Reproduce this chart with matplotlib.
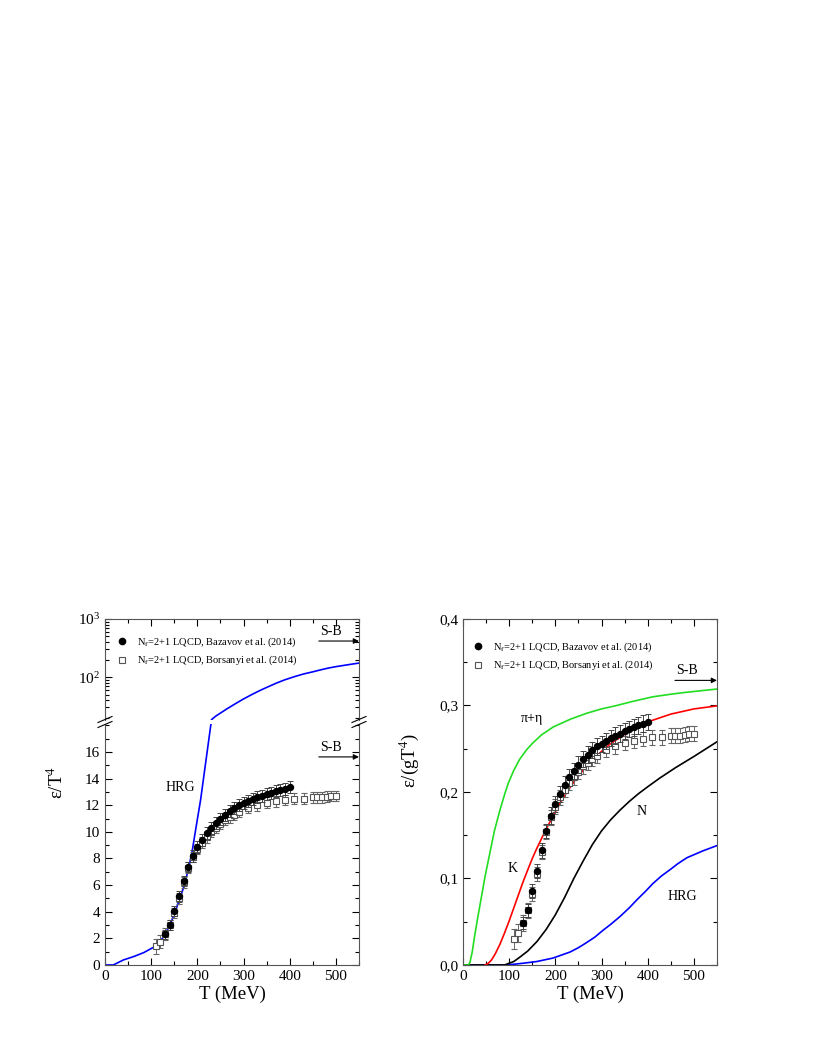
import numpy as np
import matplotlib
matplotlib.use('Agg')
import matplotlib.pyplot as plt
from matplotlib.lines import Line2D
from matplotlib.ticker import MultipleLocator, FuncFormatter, LogLocator, NullFormatter

plt.rcParams['font.family'] = ['Liberation Serif', 'DejaVu Serif']
plt.rcParams['mathtext.fontset'] = 'stix'

# degrees of freedom used for the right panel normalisation
G_DOF = 47.5
SB_LIMIT = 15.63

# lattice data, Bazavov et al. (2014)
T_baz = [130, 140, 150, 160, 170, 180, 190, 200, 210, 220, 230, 240, 250, 260,
         270, 280, 290, 300, 310, 320, 330, 340, 350, 360, 370, 380, 390, 400]
e_baz = [2.3, 3.0, 4.05, 5.15, 6.3, 7.35, 8.2, 8.85, 9.4, 9.9, 10.3, 10.65, 11.0, 11.3,
         11.55, 11.8, 12.0, 12.15, 12.3, 12.45, 12.6, 12.7, 12.85, 12.95, 13.05, 13.15, 13.25, 13.35]
err_baz = [0.35, 0.35, 0.4, 0.4, 0.4, 0.4, 0.45, 0.45, 0.45, 0.45, 0.45, 0.45, 0.45, 0.45,
           0.45, 0.45, 0.45, 0.45, 0.45, 0.45, 0.45, 0.45, 0.45, 0.45, 0.45, 0.45, 0.45, 0.45]

# lattice data, Borsanyi et al. (2014)
T_bor = [110, 120, 130, 140, 150, 160, 170, 180, 190, 200, 210, 220, 230, 240, 250, 260,
         270, 280, 290, 310, 330, 350, 370, 390, 410, 430, 450, 460, 470, 480, 490, 500]
e_bor = [1.4, 1.75, 2.3, 3.0, 3.9, 5.0, 6.2, 7.3, 8.1, 8.7, 9.2, 9.6, 10.0, 10.3, 10.6, 10.9,
         11.1, 11.3, 11.5, 11.8, 12.0, 12.2, 12.3, 12.4, 12.5, 12.5, 12.6, 12.6, 12.6, 12.65, 12.7, 12.7]
err_bor = [0.55, 0.5, 0.45, 0.4, 0.4, 0.4, 0.4, 0.4, 0.4, 0.4, 0.4, 0.4, 0.4, 0.4, 0.4, 0.4,
           0.4, 0.4, 0.4, 0.4, 0.4, 0.4, 0.4, 0.4, 0.4, 0.4, 0.4, 0.4, 0.4, 0.4, 0.4, 0.4]

# HRG curve, left panel (linear part below the break, log part above)
T_hrg_lo = [0, 18, 40, 62, 84, 105, 116, 127, 142, 156, 171, 182, 189, 196, 207, 218, 229, 232]
e_hrg_lo = [0, 0, 0.38, 0.63, 0.93, 1.33, 1.63, 2.13, 3.1, 4.4, 5.9, 7.4, 8.6, 10.1, 12.4, 15.2, 18.0, 18.6]
T_hrg_hi = [231, 240, 250, 266, 283, 300, 320, 338, 355, 370, 390, 411, 430, 450, 467, 484, 500, 520, 535, 550]
e_hrg_hi = [18.6, 21.3, 24, 29, 35, 42, 51, 60, 69, 78, 90, 102, 113, 123, 133, 143, 151, 160, 167, 174]

# right panel curves, eps/(g T^4)
T_pi = [0, 12, 15, 20, 25, 32, 40, 48, 58, 68, 80, 90, 98, 110, 123, 138, 150, 170, 195,
        232, 268, 300, 333, 370, 411, 450, 480, 515, 550]
e_pi = [0, 0, 0.003, 0.015, 0.033, 0.055, 0.079, 0.103, 0.129, 0.155, 0.179, 0.197, 0.21,
        0.225, 0.238, 0.249, 0.256, 0.266, 0.275, 0.284, 0.291, 0.296, 0.3, 0.305, 0.31,
        0.313, 0.315, 0.317, 0.319]
T_K = [48, 55, 62, 70, 80, 90, 100, 110, 120, 130, 141, 150, 160, 170, 180, 190, 200, 210,
       225, 242, 260, 281, 300, 320, 354, 400, 450, 500, 550]
e_K = [0, 0.002, 0.006, 0.013, 0.024, 0.037, 0.051, 0.066, 0.081, 0.096, 0.111, 0.123, 0.135,
       0.146, 0.157, 0.167, 0.177, 0.187, 0.2, 0.213, 0.225, 0.237, 0.247, 0.256, 0.268, 0.281,
       0.29, 0.296, 0.2995]
T_N = [0, 90, 95, 110, 123, 140, 160, 180, 200, 220, 240, 260, 280, 300, 320, 340, 360, 380,
       400, 426, 460, 500, 550]
e_N = [0, 0, 0.001, 0.004, 0.009, 0.016, 0.027, 0.041, 0.058, 0.078, 0.1, 0.12, 0.139, 0.155,
       0.168, 0.179, 0.189, 0.198, 0.206, 0.216, 0.228, 0.241, 0.258]
T_hrg_r = [0, 90, 110, 130, 160, 195, 232, 250, 268, 285, 303, 320, 340, 360, 376, 395, 411,
           430, 448, 465, 485, 520, 550]
e_hrg_r = [0, 0, 0.0008, 0.002, 0.004, 0.008, 0.015, 0.02, 0.026, 0.032, 0.04, 0.047, 0.056,
           0.066, 0.075, 0.085, 0.094, 0.103, 0.11, 0.117, 0.124, 0.132, 0.138]

fig = plt.figure(figsize=(8.14, 10.53), dpi=100)

ax_lo = fig.add_axes([0.1290, 0.0836, 0.3120, 0.2288])
ax_hi = fig.add_axes([0.1290, 0.3162, 0.3120, 0.0960])
ax_r = fig.add_axes([0.5688, 0.0836, 0.3120, 0.3286])

TICK_FS = 11


def style_x(ax, labels=True):
    ax.set_xlim(0, 550)
    ax.xaxis.set_major_locator(MultipleLocator(100))
    ax.xaxis.set_minor_locator(MultipleLocator(50))
    ax.tick_params(which='major', length=5, width=0.8, direction='in', labelsize=TICK_FS)
    ax.tick_params(which='minor', length=3, width=0.8, direction='in')
    if not labels:
        ax.tick_params(labelbottom=False)


def plot_data(ax, scale):
    ax.errorbar(T_bor, np.array(e_bor) / scale, yerr=np.array(err_bor) / scale, fmt='s',
                ms=3.8, mfc='white', mec='#555555', mew=0.8, ecolor='#666666',
                elinewidth=0.7, capsize=2.5, capthick=0.7, zorder=3)
    ax.errorbar(T_baz, np.array(e_baz) / scale, yerr=np.array(err_baz) / scale, fmt='o',
                ms=4.3, mfc='black', mec='black', ecolor='#444444',
                elinewidth=0.7, capsize=2.5, capthick=0.7, zorder=4)


def sb_arrow(ax, x0, y, ytext):
    ax.annotate('', xy=(550, y), xytext=(x0, y),
                arrowprops=dict(arrowstyle='-|>', color='black', lw=0.8, mutation_scale=8,
                                shrinkA=0, shrinkB=0))
    ax.text(x0 + 27, ytext, 'S-B', fontsize=10, ha='center', va='bottom')


# ---- left panel, lower (linear) part
style_x(ax_lo)
ax_lo.set_ylim(0, 18.1)
ax_lo.set_yticks(range(0, 17, 2))
ax_lo.yaxis.set_minor_locator(MultipleLocator(1))
ax_lo.tick_params(which='both', top=False, right=True)
ax_lo.spines['top'].set_visible(False)
ax_lo.plot(T_hrg_lo, e_hrg_lo, color='blue', lw=1.2, zorder=2)
plot_data(ax_lo, 1.0)
ax_lo.set_xlabel('T (MeV)', fontsize=13.5, labelpad=2)
ax_lo.text(164, 13.3, 'HRG', fontsize=10, ha='center', va='center')
sb_arrow(ax_lo, 463, SB_LIMIT, SB_LIMIT + 0.25)
fig.text(57 / 814, 1 - 782 / 1053, r'ε/T$^4$', fontsize=13.5, rotation=90, ha='center', va='center')

# ---- left panel, upper (log) part
style_x(ax_hi, labels=False)
ax_hi.set_yscale('log')
ax_hi.set_ylim(18.2, 1000)
ax_hi.yaxis.set_major_locator(LogLocator(base=10, numticks=5))
ax_hi.yaxis.set_minor_locator(LogLocator(base=10, subs=np.arange(2, 10), numticks=20))
ax_hi.yaxis.set_minor_formatter(NullFormatter())
ax_hi.tick_params(which='both', top=True, right=True, bottom=False)
ax_hi.tick_params(axis='y', which='major', labelsize=TICK_FS)
ax_hi.spines['bottom'].set_visible(False)
ax_hi.plot(T_hrg_hi, e_hrg_hi, color='blue', lw=1.2)
sb_arrow(ax_hi, 463, 417, 470)

# break marks on both spines
for xf in (105 / 814, 359 / 814):
    for dy in (-2.5, 2.5):
        yc = 722 + dy
        fig.add_artist(Line2D([xf - 7 / 814, xf + 7 / 814],
                              [1 - (yc + 3) / 1053, 1 - (yc - 3) / 1053],
                              color='black', lw=0.8))

handles = [Line2D([], [], ls='none', marker='o', ms=4.5, mfc='black', mec='black'),
           Line2D([], [], ls='none', marker='s', ms=4, mfc='white', mec='#555555', mew=0.8)]
labels = [r'N$_\mathrm{f}$=2+1 LQCD, Bazavov et al. (2014)',
          r'N$_\mathrm{f}$=2+1 LQCD, Borsanyi et al. (2014)']
ax_hi.legend(handles, labels, loc='upper left', bbox_to_anchor=(112 / 814, 1 - 630 / 1053),
             bbox_transform=fig.transFigure, frameon=False, fontsize=7.5,
             handlelength=1.0, handletextpad=0.9, labelspacing=0.5, borderpad=0)

# ---- right panel
style_x(ax_r)
ax_r.set_ylim(0, 0.4)
ax_r.yaxis.set_major_locator(MultipleLocator(0.1))
ax_r.yaxis.set_minor_locator(MultipleLocator(0.05))
ax_r.yaxis.set_major_formatter(FuncFormatter(lambda v, p: f'{v:.1f}'.replace('.', ',')))
ax_r.tick_params(which='both', top=True, right=True)
ax_r.plot(T_hrg_r, e_hrg_r, color='blue', lw=1.2)
ax_r.plot(T_N, e_N, color='black', lw=1.2)
ax_r.plot(T_K, e_K, color='red', lw=1.2)
ax_r.plot(T_pi, e_pi, color='#22dd22', lw=1.2)
plot_data(ax_r, G_DOF)
ax_r.set_xlabel('T (MeV)', fontsize=13.5, labelpad=2)
fig.text(409 / 814, 1 - 760 / 1053, r'ε/(gT$^4$)', fontsize=13.5, rotation=90, ha='center', va='center')
ax_r.text(149, 0.285, 'π+η', fontsize=10, ha='center', va='center')
ax_r.text(108, 0.112, 'K', fontsize=10, ha='center', va='center')
ax_r.text(387, 0.177, 'N', fontsize=10, ha='center', va='center')
ax_r.text(474, 0.079, 'HRG', fontsize=10, ha='center', va='center')
sb_arrow(ax_r, 459, np.pi ** 2 / 30, 0.333)
ax_r.legend(handles, labels, loc='upper left', bbox_to_anchor=(468 / 814, 1 - 635 / 1053),
            bbox_transform=fig.transFigure, frameon=False, fontsize=7.5,
            handlelength=1.0, handletextpad=0.9, labelspacing=0.5, borderpad=0)

for ax in (ax_lo, ax_hi, ax_r):
    for sp in ax.spines.values():
        sp.set_linewidth(0.8)
        sp.set_color('#555555')

fig.savefig('out.png', dpi=100)
